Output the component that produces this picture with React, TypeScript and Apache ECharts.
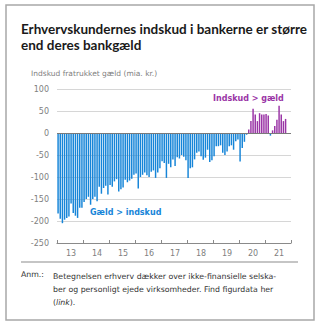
import React, { useEffect, useRef } from "react";
import * as echarts from "echarts";

const yearLabels = ["13", "14", "15", "16", "17", "18", "19", "20", "21"];
const monthsPerYear = 12;

const v2013 = [-183, -195, -205, -197, -193, -190, -160, -182, -188, -193, -170, -170];
const v2014 = [-157, -150, -145, -163, -150, -145, -155, -122, -138, -125, -120, -140];
const v2015 = [-118, -122, -110, -105, -133, -128, -124, -106, -112, -108, -104, -95];
const v2016 = [-92, -126, -100, -95, -90, -96, -100, -88, -85, -102, -90, -80];
const v2017 = [-64, -68, -102, -70, -78, -60, -75, -55, -58, -50, -54, -62];
const v2018 = [-102, -80, -78, -60, -45, -42, -53, -61, -56, -38, -66, -62];
const v2019 = [-53, -30, -30, -28, -45, -50, -42, -30, -28, -38, -19, -15];
const v2020 = [-65, -34, -20, -4, 8, 27, 55, 42, 27, 45, 42, 42];
const v2021 = [43, 40, -6, 6, 16, 30, 62, 42, 27, 32, null, null];

const yTicks = { min: -250, max: 100, interval: 50 };

const BLUE = "#1685d8";
const PURPLE = "#9a35a6";

export default function App() {
  const ref = useRef<HTMLDivElement>(null);
  useEffect(() => {
    if (!ref.current) return;
    const chart = echarts.init(ref.current, undefined, { renderer: "svg" });
    const values = [...v2013, ...v2014, ...v2015, ...v2016, ...v2017, ...v2018, ...v2019, ...v2020, ...v2021];
    const cats: string[] = [];
    yearLabels.forEach((y) => {
      for (let m = 0; m < monthsPerYear; m++) cats.push(y + "-" + (m + 1));
    });
    const font = "'DejaVu Sans', Verdana, sans-serif";
    chart.setOption({
      animation: false,
      grid: { left: 57, right: 29, top: 89, bottom: 83, containLabel: false },
      xAxis: {
        type: "category",
        data: cats,
        boundaryGap: true,
        axisLine: { onZero: false, lineStyle: { color: "#8a8a8a", width: 1.2 } },
        axisTick: {
          show: true,
          inside: true,
          length: 3,
          interval: (i: number) => i % monthsPerYear === 0,
          lineStyle: { color: "#8a8a8a" },
        },
        axisLabel: {
          interval: (i: number) => i % monthsPerYear === 6,
          formatter: (v: string) => v.split("-")[0],
          color: "#808080",
          fontSize: 8,
          fontFamily: font,
          margin: 6,
        },
        splitLine: { show: false },
      },
      yAxis: {
        type: "value",
        min: yTicks.min,
        max: yTicks.max,
        interval: yTicks.interval,
        axisLine: { show: false },
        axisTick: { show: false },
        axisLabel: { color: "#808080", fontSize: 8, fontFamily: font, margin: 8 },
        splitLine: { lineStyle: { color: "#d6d6d6", width: 1 } },
      },
      series: [
        {
          type: "bar",
          data: values.map((v) => ({
            value: v,
            itemStyle: { color: v !== null && v >= 0 ? PURPLE : BLUE },
          })),
          barWidth: "68%",
          markLine: {
            silent: true,
            symbol: "none",
            label: { show: false },
            lineStyle: { color: "#7a7a7a", width: 1.2, type: "solid" },
            data: [{ yAxis: 0 }],
          },
        },
      ],
      graphic: [
        {
          type: "rect",
          shape: { x: 6, y: 5, width: 308, height: 315 },
          style: { fill: "none", stroke: "#a8a8a8", lineWidth: 1.5 },
        },
        {
          type: "text",
          x: 21,
          y: 21,
          style: {
            text: "Erhvervskundernes indskud i bankerne er større\nend deres bankgæld",
            fontFamily: "Lato, sans-serif",
            fontWeight: "bold",
            fontSize: 13.5,
            lineHeight: 16,
            fill: "#1a1a1a",
          },
        },
        {
          type: "text",
          x: 31,
          y: 69,
          style: {
            text: "Indskud fratrukket gæld (mia. kr.)",
            fontFamily: font,
            fontSize: 7.5,
            fill: "#808080",
          },
        },
        {
          type: "text",
          x: 213,
          y: 94,
          style: {
            text: "Indskud > gæld",
            fontFamily: font,
            fontSize: 8,
            fontWeight: "bold",
            fill: PURPLE,
          },
        },
        {
          type: "text",
          x: 90,
          y: 208,
          style: {
            text: "Gæld > indskud",
            fontFamily: font,
            fontSize: 8,
            fontWeight: "bold",
            fill: BLUE,
          },
        },
        {
          type: "line",
          shape: { x1: 21, y1: 262, x2: 298, y2: 262 },
          style: { stroke: "#8c8c8c", lineWidth: 1.2 },
        },
        {
          type: "text",
          x: 21,
          y: 270,
          style: {
            text: "Anm.:",
            fontFamily: font,
            fontSize: 7.8,
            fill: "#333333",
          },
        },
        {
          type: "text",
          x: 53,
          y: 270,
          style: {
            text:
              "Betegnelsen erhverv dækker over ikke-finansielle selska-\nber og personligt ejede virksomheder. Find figurdata her\n({i|link}).",
            fontFamily: font,
            fontSize: 7.8,
            lineHeight: 13,
            fill: "#333333",
            rich: { i: { fontStyle: "italic", fontFamily: font, fontSize: 7.8, fill: "#333333" } },
          },
        },
      ],
    });
    return () => chart.dispose();
  }, []);
  return (
    <div
      ref={ref}
      style={{ position: "fixed", left: 0, top: 0, width: 320, height: 326, background: "#ffffff" }}
    />
  );
}
